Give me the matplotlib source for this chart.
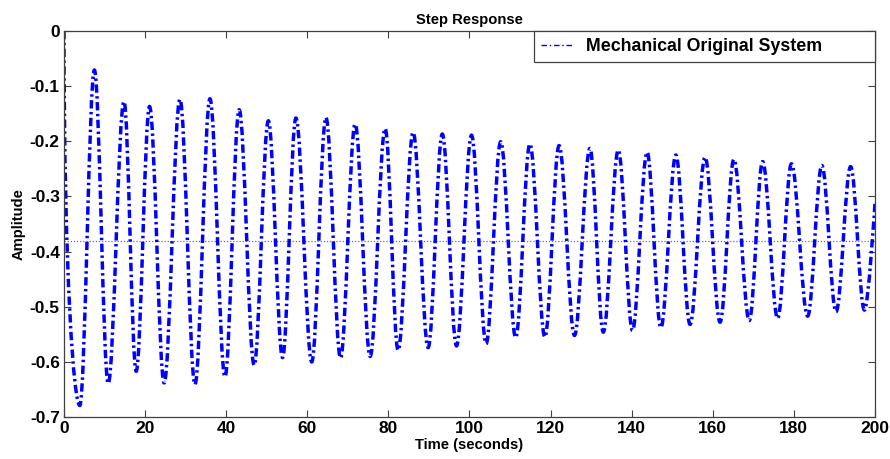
import matplotlib
matplotlib.use('Agg')
import matplotlib.pyplot as plt
from matplotlib.lines import Line2D
from matplotlib.path import Path
from matplotlib.patches import PathPatch

# extrema (time in s, amplitude)
start_t, start_y = 0.0, 0.0
trough_t = [3.9, 10.9, 17.8, 24.7, 32.3, 39.7, 46.9, 53.9, 61.1, 68.2, 75.5, 82.4, 89.8, 96.8,
            104.1, 111.4, 118.6, 125.9, 133.0, 140.2, 147.2, 154.4, 161.8, 169.0, 176.0, 183.4,
            190.4, 197.4]
trough_y = [-0.679, -0.639, -0.617, -0.638, -0.641, -0.627, -0.606, -0.592, -0.600, -0.593,
            -0.590, -0.579, -0.574, -0.571, -0.567, -0.556, -0.555, -0.552, -0.546, -0.543,
            -0.538, -0.532, -0.528, -0.525, -0.521, -0.517, -0.509, -0.506]
peak_t = [7.5, 14.8, 21.1, 28.6, 36.0, 43.2, 50.4, 57.2, 64.6, 71.8, 79.2, 86.1, 93.3, 100.5,
          107.7, 114.9, 122.1, 129.7, 136.7, 143.8, 150.9, 158.1, 165.2, 172.3, 179.4, 186.9,
          194.0]
peak_y = [-0.071, -0.128, -0.137, -0.124, -0.123, -0.143, -0.163, -0.158, -0.157, -0.169,
          -0.177, -0.184, -0.187, -0.189, -0.201, -0.205, -0.208, -0.213, -0.216, -0.220,
          -0.225, -0.229, -0.233, -0.237, -0.241, -0.244, -0.246]
end_t, end_y = 200.0, -0.313
steady_state = -0.381

x_ticks = [0, 20, 40, 60, 80, 100, 120, 140, 160, 180, 200]
y_ticks = [0, -0.1, -0.2, -0.3, -0.4, -0.5, -0.6, -0.7]
y_labels = ['0', '-0.1', '-0.2', '-0.3', '-0.4', '-0.5', '-0.6', '-0.7']

# alternate trough / peak
ext_t = []
ext_y = []
for i in range(len(trough_t)):
    ext_t.append(trough_t[i])
    ext_y.append(trough_y[i])
    if i < len(peak_t):
        ext_t.append(peak_t[i])
        ext_y.append(peak_y[i])

# smooth curve: cubic segments with flat tangents at each extremum
k = 0.363
verts = [(start_t, start_y), (start_t, -0.45), (ext_t[0] - k * (ext_t[0] - start_t), ext_y[0]),
         (ext_t[0], ext_y[0])]
codes = [Path.MOVETO, Path.CURVE4, Path.CURVE4, Path.CURVE4]
for i in range(1, len(ext_t)):
    dt = ext_t[i] - ext_t[i - 1]
    verts += [(ext_t[i - 1] + k * dt, ext_y[i - 1]), (ext_t[i] - k * dt, ext_y[i]),
              (ext_t[i], ext_y[i])]
    codes += [Path.CURVE4] * 3
dt = end_t - ext_t[-1]
verts += [(ext_t[-1] + k * dt, ext_y[-1]), (end_t, end_y), (end_t, end_y)]
codes += [Path.CURVE4] * 3

plt.rcParams['font.family'] = ['Liberation Sans', 'DejaVu Sans']
plt.rcParams['font.weight'] = 'bold'

fig = plt.figure(figsize=(8.9, 4.59), dpi=100)
ax = fig.add_axes([0.0719, 0.0915, 0.9112, 0.841])

ax.axhline(steady_state, color='#707070', lw=0.9, ls=(0, (1, 1.5)), zorder=1)
curve = PathPatch(Path(verts, codes), fill=False, edgecolor='#0000ff', lw=2.5,
                  ls=(0, (2.4, 1.0, 0.7, 1.0)), transform=ax.transData, zorder=2)
ax.add_patch(curve)

ax.set_xlim(0, 200)
ax.set_ylim(-0.7, 0)
ax.set_xticks(x_ticks)
ax.set_xticklabels([str(v) for v in x_ticks], fontsize=12.5, fontweight='bold')
ax.set_yticks(y_ticks)
ax.set_yticklabels(y_labels, fontsize=12.5, fontweight='bold')
ax.tick_params(direction='in', length=5, width=0.8, color='#404040', top=True, right=True, pad=3)
for s in ax.spines.values():
    s.set_color('#404040')
    s.set_linewidth(0.9)

ax.set_title('Step Response', fontsize=10.6, fontweight='bold', pad=5)
ax.set_xlabel('Time (seconds)', fontsize=10.6, fontweight='bold', labelpad=1)
ax.set_ylabel('Amplitude', fontsize=10.6, fontweight='bold', labelpad=3)

handle = Line2D([], [], color='#0000ff', lw=1.0, ls=(0, (4, 2, 1, 2)))
leg = ax.legend([handle], ['Mechanical Original System'], loc='upper left',
                bbox_to_anchor=(0.580, 0.917, 0.420, 0.083), mode='expand',
                borderaxespad=0, fancybox=False, framealpha=1, handlelength=1.8,
                handletextpad=0.7, prop={'size': 12.8, 'weight': 'bold'})
leg.get_frame().set_edgecolor('#404040')
leg.get_frame().set_linewidth(0.9)

fig.savefig('out.png', dpi=100)
